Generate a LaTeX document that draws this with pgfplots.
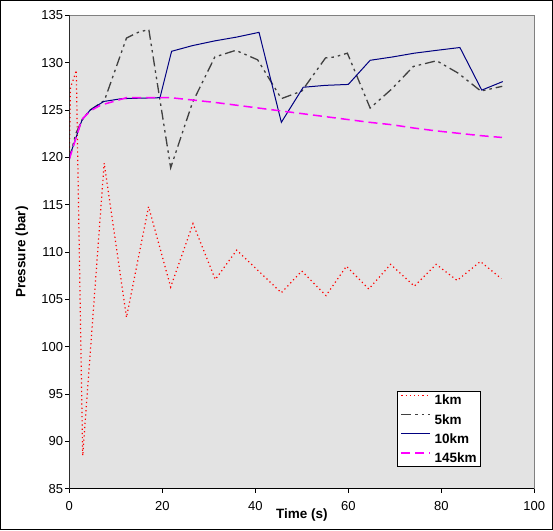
\documentclass[border=0pt]{standalone}
\usepackage{fontspec}
\setmainfont{Liberation Sans}
\usepackage{pgfplots}
\pgfplotsset{compat=1.18}
\definecolor{plotbg}{RGB}{227,227,227}
\definecolor{darkline}{RGB}{64,64,64}
\definecolor{navyline}{RGB}{0,0,128}
\definecolor{pinkline}{RGB}{255,0,255}
\definecolor{redline}{RGB}{255,0,0}
\definecolor{framegray}{RGB}{128,128,128}

\begin{document}
\begin{tikzpicture}
\begin{axis}[
    scale only axis,
    width=465pt, height=473.5pt,
    xmin=0, xmax=100, ymin=85, ymax=135,
    xtick={0,20,...,100},
    ytick={85,90,...,135},
    tick pos=left,
    tick align=outside,
    major tick length=4pt,
    tick style={black, line width=0.8pt},
    axis line style={draw=framegray, line width=0.8pt},
    axis background/.style={fill=plotbg},
    /pgf/number format/assume math mode=true,
    ticklabel style={font=\fontsize{13}{15}\selectfont},
    yticklabel style={anchor=east, inner sep=0pt, xshift=-2pt},
    xticklabel style={anchor=north, inner sep=0pt, yshift=-8pt},
    xlabel={\textbf{Time (s)}},
    ylabel={\textbf{Pressure (bar)}},
    label style={font=\fontsize{13.5}{15}\selectfont},
    xlabel style={at={(axis description cs:0.5,-0.056)}, anchor=center},
    ylabel style={at={(axis description cs:-0.1017,0.5)}, anchor=center},
    legend style={at={(axis description cs:0.7041,0.2072)}, anchor=north west,
        draw=black, line width=0.8pt, fill=white,
        font=\fontsize{13.5}{15}\selectfont\bfseries,
        inner sep=3.5pt, row sep=9pt, column sep=4pt,
        nodes={inner sep=0pt, text height=9.7pt, text depth=0pt}},
    legend cell align=left,
    legend image code/.code={\draw[#1] (0pt,4.85pt) -- (28.6pt,4.85pt);},
]
\addplot[redline, line width=1.2pt, dash pattern=on 1.2pt off 3pt] coordinates {
(0,119.7)(0.25,127.4)(1.0,128.4)(1.5,129.2)(2.88,88.5)(7.5,119.4)(12.3,103.1)
(17.05,114.8)(21.8,106.3)(26.6,113.0)(31.4,107.1)(36.0,110.2)(45.6,105.7)
(50.0,108.0)(55.2,105.4)(59.6,108.5)(64.4,106.1)(69.1,108.7)(74.2,106.4)
(78.9,108.7)(83.4,107.0)(88.4,109.0)(92.9,107.2)};
\addplot[darkline, line width=1.3pt, dash pattern=on 10pt off 4pt on 2.5pt off 4pt on 2.5pt off 4pt] coordinates {
(0,119.8)(1.4,122.5)(2.8,124.0)(4.5,125.0)(7.55,126.0)(12.3,132.6)(14.8,133.2)
(17.1,133.5)(21.8,118.9)(26.5,125.8)(31.3,130.6)(35.8,131.3)(40.5,130.3)
(45.6,126.2)(50.0,127.0)(55.1,130.5)(57.1,130.6)(59.8,131.0)(64.7,125.2)
(69.3,127.2)(74.0,129.6)(79.0,130.2)(83.6,128.9)(88.5,127.0)(93.1,127.5)};
\addplot[navyline, line width=1pt] coordinates {
(0,120.0)(2.0,122.9)(2.7,123.9)(4.5,125.0)(7.4,125.9)(11.3,126.2)(19.5,126.3)
(22.0,131.2)(26.5,131.8)(31.3,132.3)(36.0,132.7)(40.8,133.2)(45.6,123.7)
(50.3,127.4)(55.0,127.6)(60.0,127.7)(64.7,130.25)(69.5,130.6)(74.2,131.0)
(79.0,131.3)(84.0,131.6)(88.7,127.1)(93.2,128.0)};
\addplot[pinkline, line width=1.5pt, dash pattern=on 9pt off 5pt] coordinates {
(0,119.8)(2.7,124.0)(4.5,124.9)(6.7,125.5)(10.2,126.0)(12.3,126.3)(21.8,126.3)
(26.55,126.05)(31.3,125.8)(36.05,125.5)(40.8,125.2)(45.55,124.9)(50.3,124.6)
(55.05,124.3)(59.8,124.0)(64.55,123.7)(69.3,123.45)(74.05,123.1)(78.8,122.8)
(83.55,122.55)(88.3,122.3)(93.05,122.1)};
\legend{1km, 5km, 10km, 145km}
\draw[black, line width=1pt] (rel axis cs:0,1) -- (rel axis cs:0,0) -- (rel axis cs:1,0);
\end{axis}
\draw[black, line width=1pt] (-68.8pt,-40.7pt) rectangle (483.2pt,488.3pt);
\end{tikzpicture}
\end{document}
